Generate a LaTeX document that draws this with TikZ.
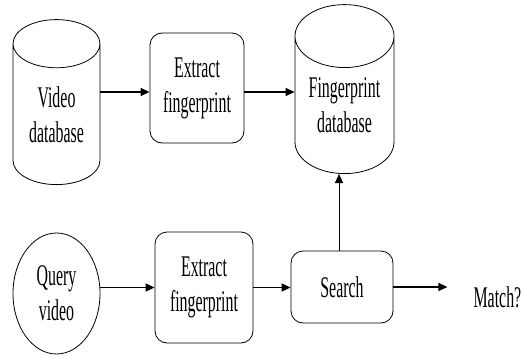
\documentclass[tikz,border=0pt]{standalone}
\usepackage{fontspec}
\setmainfont[FakeStretch=0.53]{Liberation Serif}
\usetikzlibrary{positioning,shapes.geometric,arrows.meta}

\begin{document}
\begin{tikzpicture}[x=1pt,y=1pt,
        every node/.style={font=\fontsize{30}{35}\selectfont, align=center, inner sep=0pt},
        dbase/.style={draw, line width=0.8pt, cylinder, shape border rotate=90, aspect=0.88, anchor=south},
        proc/.style={draw, line width=0.8pt, rounded corners=12pt},
        src/.style={draw, line width=0.8pt, ellipse},
        arr/.style={-{Triangle[length=9pt,width=8pt]}, line width=1.4pt}
      ]
        \useasboundingbox (0,0) rectangle (524,-356);
        \node[dbase, minimum width=87pt, minimum height=165pt] (vdb) at (56.5,-185) {Video\\database};
        \node[proc, minimum width=94pt, minimum height=110pt] (ext1) at (197,-88) {Extract\\fingerprint};
        \node[dbase, minimum width=99pt, minimum height=169pt] (fdb) at (344.5,-174) {Fingerprint\\database};
        \node[src, minimum width=87pt, minimum height=121pt] (qv) at (56.5,-293.5) {Query\\video};
        \node[proc, minimum width=98pt, minimum height=111pt] (ext2) at (204,-287.5) {Extract\\fingerprint};
        \node[proc, minimum width=102pt, minimum height=72pt] (srch) at (342,-287) {Search};
        \coordinate (mend) at ([xshift=54pt]srch.east);
        \node[right=26pt of mend, yshift=-10pt] (match) {Match?};
        \coordinate (e1in) at ([yshift=-4pt]ext1.west);
        \coordinate (e1out) at ([yshift=-4pt]ext1.east);
        % arrows
        \draw[arr] (vdb.east |- e1in) -- (e1in);
        \draw[arr] (e1out) -- (e1out -| fdb.west);
        \draw[arr] (qv.east |- ext2.west) -- (ext2.west);
        \draw[arr] (ext2.east) -- (ext2.east -| srch.west);
        \draw[arr, line width=1pt] ([xshift=-3pt]srch.north) -- ([xshift=-3pt]srch.north |- fdb.south);
        \draw[arr] (srch.east) -- (mend);
      \end{tikzpicture}
\end{document}
